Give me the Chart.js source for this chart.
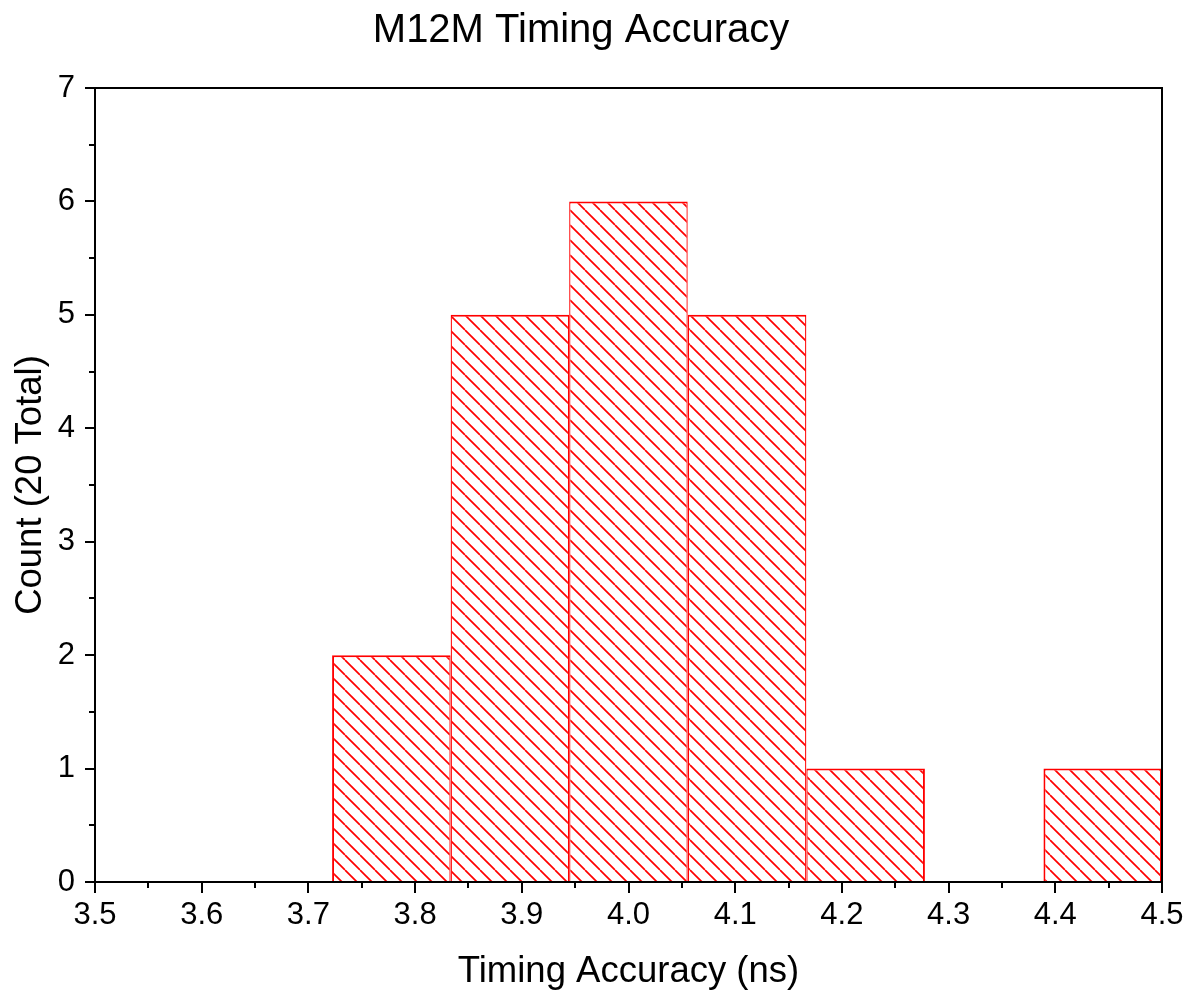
<!DOCTYPE html>
<html><head><meta charset="utf-8">
<script src="https://cdn.jsdelivr.net/npm/chart.js@4/dist/chart.umd.min.js"></script>
<style>html,body{margin:0;padding:0;background:#fff}canvas{display:block}</style>
</head><body>
<canvas id="c" width="1187" height="991"></canvas>
<script>
// ---- data ----
const binStarts = [3.7222, 3.8333, 3.9444, 4.0556, 4.1667, 4.2778, 4.3889];
const binWidth = 0.1111;
const counts = [2, 5, 6, 5, 1, 0, 1];
const xTickValues = [3.5, 3.6, 3.7, 3.8, 3.9, 4.0, 4.1, 4.2, 4.3, 4.4, 4.5];
const xTickLabels = ['3.5','3.6','3.7','3.8','3.9','4.0','4.1','4.2','4.3','4.4','4.5'];
const yTickValues = [0, 1, 2, 3, 4, 5, 6, 7];
const yTickLabels = ['0','1','2','3','4','5','6','7'];
const titleText = 'M12M Timing Accuracy';
const xTitle = 'Timing Accuracy (ns)';
const yTitle = 'Count (20 Total)';

const RED = '#ff0000';
const FONT = "'Liberation Sans', Arial, sans-serif";

// minor ticks halfway between majors
const xMinor = xTickValues.slice(0, -1).map((v, i) => (v + xTickValues[i + 1]) / 2);
const yMinor = yTickValues.slice(0, -1).map((v, i) => (v + yTickValues[i + 1]) / 2);
// Chart.js sizes bars from the smallest spacing (here the tick step), so scale bars to the bin width
const xTickStep = xTickValues[1] - xTickValues[0];

function hatchPattern() {
  const s = 15;
  const c = document.createElement('canvas');
  c.width = s; c.height = s;
  const g = c.getContext('2d');
  g.fillStyle = '#fff'; g.fillRect(0, 0, s, s);
  g.strokeStyle = RED; g.lineWidth = 1.7;
  for (const x0 of [-s, 0, s]) {
    g.beginPath(); g.moveTo(x0, 0); g.lineTo(x0 + s, s); g.stroke();
  }
  return g.createPattern(c, 'repeat');
}

const barData = binStarts.map((b, i) => ({ x: b + binWidth / 2, y: counts[i] }));

const frameTicks = {
  id: 'frameTicks',
  afterDraw(chart) {
    const { ctx, chartArea: a, scales } = chart;
    ctx.save();
    ctx.strokeStyle = '#000';
    ctx.lineWidth = 2;
    ctx.strokeRect(a.left, a.top, a.right - a.left, a.bottom - a.top);
    ctx.beginPath();
    const xs = scales.x, ys = scales.y;
    xTickValues.forEach(v => { const p = Math.round(xs.getPixelForValue(v)); ctx.moveTo(p, a.bottom); ctx.lineTo(p, a.bottom + 11); });
    xMinor.forEach(v => { const p = Math.round(xs.getPixelForValue(v)); ctx.moveTo(p, a.bottom); ctx.lineTo(p, a.bottom + 6); });
    yTickValues.forEach(v => { const p = Math.round(ys.getPixelForValue(v)); ctx.moveTo(a.left, p); ctx.lineTo(a.left - 10, p); });
    yMinor.forEach(v => { const p = Math.round(ys.getPixelForValue(v)); ctx.moveTo(a.left, p); ctx.lineTo(a.left - 6, p); });
    ctx.stroke();
    ctx.restore();
  }
};

function borderFor(ctx) {
  const i = ctx.dataIndex;
  const prev = i > 0 ? counts[i - 1] : 0;
  const next = i < counts.length - 1 ? counts[i + 1] : 0;
  return { top: 2, left: prev > 0 ? 1.3 : 2, right: next > 0 ? 1.3 : 2, bottom: 0 };
}

new Chart(document.getElementById('c'), {
  type: 'bar',
  data: {
    datasets: [{
      data: barData,
      backgroundColor: hatchPattern(),
      borderColor: RED,
      borderWidth: borderFor,
      borderSkipped: false,
      barPercentage: binWidth / xTickStep,
      categoryPercentage: 1
    }]
  },
  plugins: [frameTicks],
  options: {
    responsive: false,
    devicePixelRatio: 1,
    animation: false,
    layout: { padding: { left: 0, right: 25, top: 0, bottom: 0 } },
    plugins: {
      legend: { display: false },
      tooltip: { enabled: false },
      title: {
        display: true, text: titleText, color: '#000',
        font: { family: FONT, size: 40, weight: 'normal' },
        padding: { top: 7, bottom: 33 }
      }
    },
    scales: {
      x: {
        type: 'linear', min: 3.5, max: 4.5, offset: false,
        afterFit: s => { s.height = 109; s.paddingLeft = 0; s.paddingRight = 0; },
        afterBuildTicks: s => { s.ticks = xTickValues.map(v => ({ value: v })); },
        grid: { display: false, drawTicks: false, offset: false },
        border: { display: false },
        ticks: {
          autoSkip: false, maxRotation: 0, color: '#000', padding: 15,
          font: { family: FONT, size: 31 },
          callback: (v, i) => xTickLabels[i]
        },
        title: {
          display: true, text: xTitle, color: '#000',
          font: { family: FONT, size: 36.5, lineHeight: 1.05 }, padding: { top: 0, bottom: 0 }
        }
      },
      y: {
        type: 'linear', min: 0, max: 7,
        afterFit: s => { s.width = 95; s.paddingTop = 0; s.paddingBottom = 0; },
        afterBuildTicks: s => { s.ticks = yTickValues.map(v => ({ value: v })); },
        grid: { display: false, drawTicks: false },
        border: { display: false },
        ticks: {
          autoSkip: false, color: '#000', padding: 20,
          font: { family: FONT, size: 31 },
          callback: (v, i) => yTickLabels[i]
        },
        title: {
          display: true, text: yTitle, color: '#000',
          font: { family: FONT, size: 36.5 }, padding: { top: 9, bottom: 0 }
        }
      }
    }
  }
});
</script>
</body></html>
